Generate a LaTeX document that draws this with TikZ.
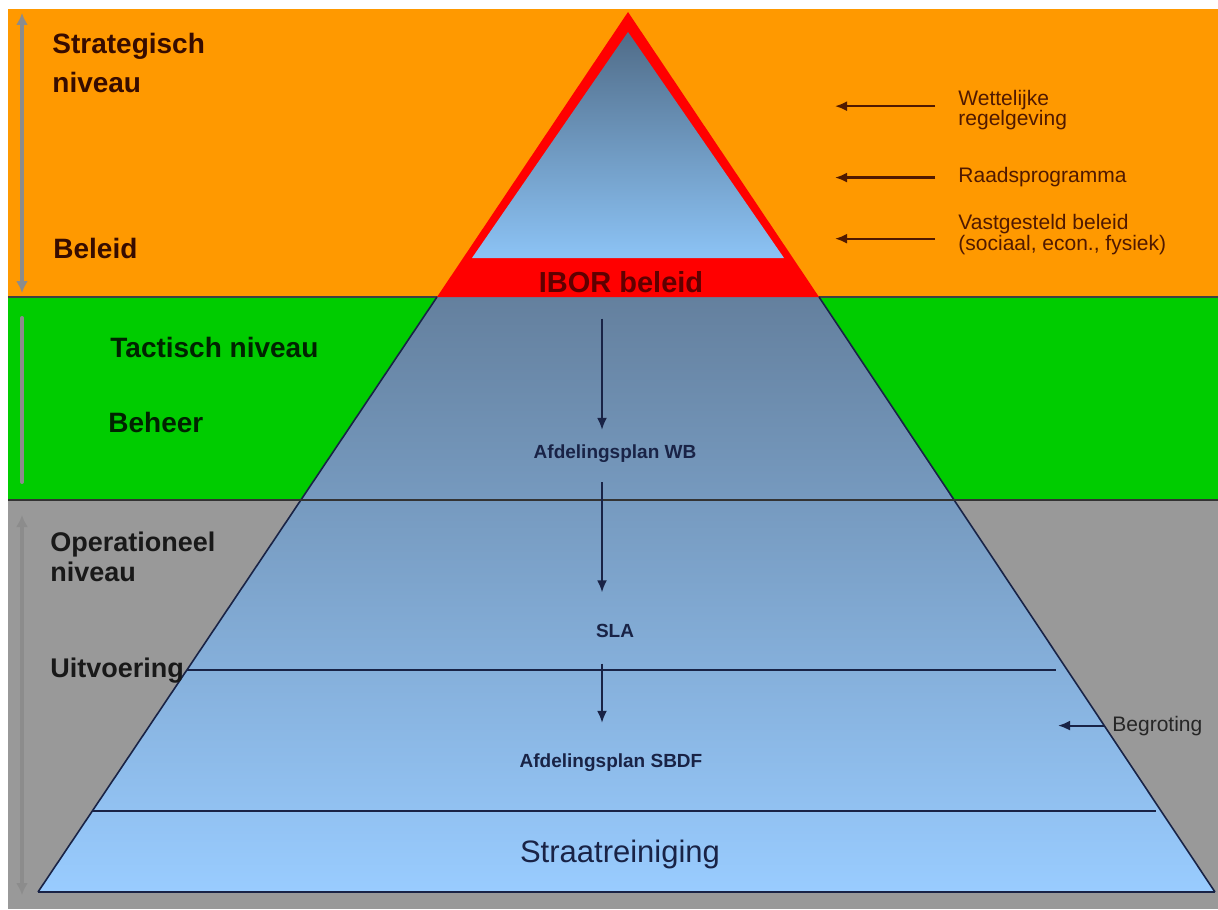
\documentclass[tikz,border=0pt]{standalone}
\usepackage{fontspec}
\setmainfont{Liberation Sans}
\usetikzlibrary{arrows.meta}

\definecolor{bandorange}{RGB}{255,153,0}
\definecolor{bandgreen}{RGB}{0,204,0}
\definecolor{bandgray}{RGB}{153,153,153}
\definecolor{ibored}{RGB}{255,0,0}
\definecolor{pyrtop}{RGB}{100,128,158}
\definecolor{pyrmid}{RGB}{128,168,208}
\definecolor{pyrbot}{RGB}{153,204,255}
\definecolor{tritop}{RGB}{80,108,136}
\definecolor{tribot}{RGB}{140,195,245}
\definecolor{navy}{RGB}{25,35,70}
\definecolor{brownish}{RGB}{80,25,0}
\definecolor{darkbrown}{RGB}{55,12,0}
\definecolor{maroon}{RGB}{95,0,0}
\definecolor{darkgreen}{RGB}{0,35,0}
\definecolor{spangray}{RGB}{140,140,140}

\begin{document}
\begin{tikzpicture}[
    x=0.5pt, y=-0.5pt,
    lbl/.style={inner sep=0pt},
    flow/.style={-{Latex[length=6pt,width=5pt]}, navy, line width=1pt},
    inarrow/.style={-{Latex[length=6pt,width=5pt]}, brownish, line width=1.1pt},
    span/.style={{Latex[length=6pt,width=6pt]}-{Latex[length=6pt,width=6pt]}, spangray, line width=2pt},
    tier/.style={navy, line width=1pt},
]

\useasboundingbox (0,0) rectangle (1218,909);

% Background bands
\fill[bandorange] (8,9) rectangle (1218,297);
\fill[bandgreen] (8,297) rectangle (1218,500);
\fill[bandgray] (8,500) rectangle (1218,909);
\draw[line width=1pt, black!75] (8,297) -- (1218,297);

% Pyramid corners
\coordinate (A) at (628,12);
\coordinate (L1) at (437,297);
\coordinate (R1) at (819,297);
\coordinate (L3) at (187,670);
\coordinate (R3) at (1056,670);
\coordinate (L4) at (93,811);
\coordinate (R4) at (1156,811);
\coordinate (BL) at (38,892);
\coordinate (BR) at (1215,892);

% Lower pyramid
\shade[top color=pyrtop, middle color=pyrmid, bottom color=pyrbot]
      (L1) -- (BL) -- (BR) -- (R1) -- cycle;
\draw[navy, line width=0.8pt] (L1) -- (BL);
\draw[navy, line width=0.8pt] (R1) -- (BR);
\draw[navy, line width=1.2pt] (BL) -- (BR);
\draw[line width=1pt, black!80] (8,500) -- (1218,500);
\draw[tier] (L3) -- (R3);
\draw[tier] (L4) -- (R4);

% Top of pyramid: IBOR beleid
\fill[ibored] (A) -- (L1) -- (R1) -- cycle;
\shade[top color=tritop, bottom color=tribot] (628,32) -- (472,258) -- (784,258) -- cycle;

% Level spans on the left
\draw[span] (22,13) -- (22,293);
\draw[spangray, line width=2pt, line cap=round] (22,318) -- (22,482);
\draw[span] (22,515) -- (22,895);

% Level labels
\node[lbl, anchor=north west, align=left, text=darkbrown,
      font=\fontsize{14}{19.5}\selectfont\bfseries] (strat) at (52,33) {Strategisch\\niveau};
\node[lbl, anchor=base west, text=darkbrown,
      font=\fontsize{14}{17}\selectfont\bfseries] (beleid) at (53,258) {Beleid};
\node[lbl, anchor=base west, text=darkgreen,
      font=\fontsize{14}{17}\selectfont\bfseries] (tact) at (110,357) {Tactisch niveau};
\node[lbl, anchor=base west, text=darkgreen,
      font=\fontsize{14}{17}\selectfont\bfseries] (beheer) at (108,432) {Beheer};
\node[lbl, anchor=north west, align=left, text=black!90,
      font=\fontsize{13.5}{15}\selectfont\bfseries] (oper) at (50,532) {Operationeel\\niveau};
\node[lbl, anchor=base west, text=black!90,
      font=\fontsize{13.5}{15}\selectfont\bfseries] (uitv) at (50,677) {Uitvoering};

% Inputs on the right
\coordinate (tip) at (835,0);
\node[lbl, anchor=north west, align=left, text=brownish,
      font=\fontsize{10.5}{10}\selectfont] (wet) at (958,90) {Wettelijke\\regelgeving};
\node[lbl, anchor=base west, text=brownish,
      font=\fontsize{10.5}{12}\selectfont] (raad) at (958,183) {Raadsprogramma};
\node[lbl, anchor=north west, align=left, text=brownish,
      font=\fontsize{10.5}{10.5}\selectfont] (vast) at (958,214) {Vastgesteld beleid\\(sociaal, econ., fysiek)};

\draw[inarrow, shorten <=11.5pt] ([yshift=2pt]wet.west) -- ([yshift=2pt]wet.west -| tip);
\draw[inarrow, shorten <=11.5pt] (raad.west) -- (raad.west -| tip);
\draw[inarrow, shorten <=11.5pt] ([yshift=-2pt]vast.west) -- ([yshift=-2pt]vast.west -| tip);

% Documents in the pyramid
\coordinate (axis) at (602,0);
\node[lbl, anchor=base, text=maroon,
      font=\fontsize{14.5}{17}\selectfont\bfseries] (ibor) at (621,292) {IBOR beleid};
\node[lbl, anchor=base, text=navy,
      font=\fontsize{9.5}{11}\selectfont\bfseries] (wb) at (615,458) {Afdelingsplan WB};
\node[lbl, anchor=base, text=navy,
      font=\fontsize{9.5}{11}\selectfont\bfseries] (sla) at (615,637) {SLA};
\node[lbl, anchor=base, text=navy,
      font=\fontsize{9.5}{11}\selectfont\bfseries] (sbdf) at (611,767) {Afdelingsplan SBDF};
\node[lbl, anchor=base, text=navy,
      font=\fontsize{15.5}{18}\selectfont] (straat) at (620,862) {Straatreiniging};

\draw[flow, shorten <=13pt, shorten >=7pt] (ibor.south -| axis) -- (wb.north -| axis);
\draw[flow, shorten <=10pt, shorten >=15.5pt] (wb.south -| axis) -- (sla.north -| axis);
\draw[flow, shorten <=13pt, shorten >=15pt] (sla.south -| axis) -- (sbdf.north -| axis);

% Budget
\coordinate (btip) at (1058,0);
\node[lbl, anchor=base west, text=black!85,
      font=\fontsize{10.5}{12}\selectfont] (begr) at (1112,731) {Begroting};
\draw[flow, shorten <=3.5pt] (begr.west) -- (begr.west -| btip);

\end{tikzpicture}
\end{document}
